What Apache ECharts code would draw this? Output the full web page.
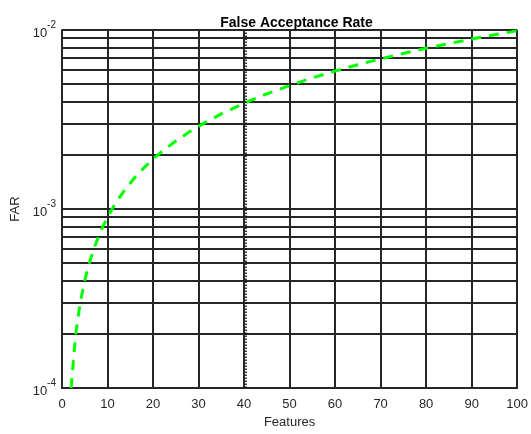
<!DOCTYPE html>
<html>
<head>
<meta charset="utf-8">
<script src="https://cdn.jsdelivr.net/npm/echarts@6/dist/echarts.min.js"></script>
<style>html,body{margin:0;padding:0;background:#fff;}#c{width:531px;height:434px;}</style>
</head>
<body>
<div id="c"></div>
<script>
// Data
var features = [2,3,4,5,6,7,8,9,10,11,12,14,16,18,20,22,25,28,31,35,40,45,50,55,60,65,70,75,80,85,90,95,100];
var far = [1e-4,2e-4,3e-4,4e-4,5e-4,6e-4,7e-4,8e-4,9e-4,1.0e-3,1.1e-3,1.3e-3,1.5e-3,1.7e-3,1.9e-3,2.1e-3,2.4e-3,2.7e-3,3.0e-3,3.4e-3,3.9e-3,4.4e-3,4.9e-3,5.4e-3,5.9e-3,6.4e-3,6.9e-3,7.4e-3,7.9e-3,8.4e-3,8.9e-3,9.4e-3,9.9e-3];
var xTicks = [0,10,20,30,40,50,60,70,80,90,100];
var yTickExponents = [-4,-3,-2];
var yMinorGrid = [2e-4,3e-4,4e-4,5e-4,6e-4,7e-4,8e-4,9e-4,2e-3,3e-3,4e-3,5e-3,6e-3,7e-3,8e-3,9e-3];
var dottedX = [40.3];

var GRIDC = '#262626';
var XMIN = 0, XMAX = 100, YMIN = 1e-4, YMAX = 1e-2;
var chart = echarts.init(document.getElementById('c'), null, {renderer:'canvas'});
var pts = features.map(function(x,i){return [x, far[i]];});
var gridMarks = yMinorGrid.map(function(v){return [{coord:[XMIN, v]}, {coord:[XMAX, v]}];});
var dotMarks = dottedX.map(function(v){return [{coord:[v, YMIN], lineStyle:{type:'dotted', color:'#000', width:1.5}}, {coord:[v, YMAX]}];});

chart.setOption({
  animation:false,
  backgroundColor:'#fff',
  title:{
    text:'False Acceptance Rate',
    left:291.5, top:11, textAlign:'center',
    textStyle:{fontFamily:'Liberation Sans, Arial', fontSize:14, fontWeight:'bold', color:'#000'}
  },
  grid:{left:62, right:10, top:30, bottom:43, containLabel:false},
  xAxis:{
    type:'value', min:XMIN, max:XMAX, interval:10,
    name:'Features', nameLocation:'middle', nameGap:26,
    nameTextStyle:{fontFamily:'Liberation Sans, Arial', fontSize:13, color:'#262626'},
    axisLine:{show:true, lineStyle:{color:GRIDC, width:2}},
    axisTick:{show:false},
    axisLabel:{fontFamily:'Liberation Sans, Arial', fontSize:13, color:'#262626', margin:10,
      formatter:function(v){return xTicks.indexOf(v)>=0 ? String(v) : '';}},
    splitLine:{show:true, lineStyle:{color:GRIDC, width:2}}
  },
  yAxis:{
    type:'log', logBase:10, min:YMIN, max:YMAX,
    name:'FAR', nameLocation:'middle', nameGap:39, nameRotate:90,
    nameTextStyle:{fontFamily:'Liberation Sans, Arial', fontSize:13, color:'#262626'},
    axisLine:{show:true, lineStyle:{color:GRIDC, width:2}},
    axisTick:{show:false},
    axisLabel:{
      margin:6,
      formatter:function(v){
        var e = Math.round(Math.log(v)/Math.LN10);
        if (yTickExponents.indexOf(e) < 0) return '';
        return '{b|10}{s|' + e + '}';
      },
      rich:{
        b:{fontFamily:'Liberation Sans, Arial', fontSize:13, color:'#262626', padding:[6,0,0,0]},
        s:{fontFamily:'Liberation Sans, Arial', fontSize:10, color:'#262626', verticalAlign:'top', padding:[0,0,6,0]}
      }
    },
    splitLine:{show:true, lineStyle:{color:GRIDC, width:2}}
  },
  series:[
    {
      type:'line', z:1, data:[[XMIN,YMIN]], showSymbol:false, symbol:'none',
      lineStyle:{width:0, opacity:0}, silent:true,
      markLine:{
        silent:true, symbol:['none','none'], label:{show:false},
        lineStyle:{type:'solid', color:GRIDC, width:2, opacity:1},
        emphasis:{disabled:true},
        data: gridMarks.concat(dotMarks)
      }
    },
    {
      type:'line', z:5, data:pts, showSymbol:false, symbol:'none', smooth:false,
      lineStyle:{color:'#00ff00', width:3, type:[10,8]}
    }
  ]
});
</script>
</body>
</html>
